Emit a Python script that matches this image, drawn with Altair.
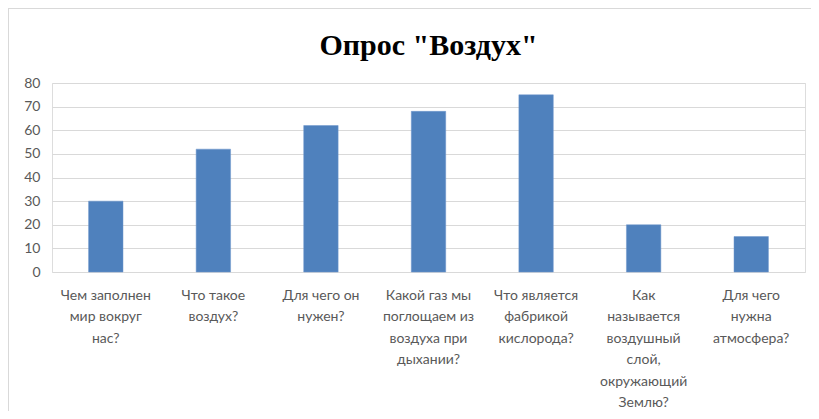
import altair as alt
import pandas as pd

categories = [
    "Чем заполнен|мир вокруг|нас?",
    "Что такое|воздух?",
    "Для чего он|нужен?",
    "Какой газ мы|поглощаем из|воздуха при|дыхании?",
    "Что является|фабрикой|кислорода?",
    "Как|называется|воздушный|слой,|окружающий|Землю?",
    "Для чего|нужна|атмосфера?",
]
values = [30, 52, 62, 68, 75, 20, 15]
y_ticks = [0, 10, 20, 30, 40, 50, 60, 70, 80]

df = pd.DataFrame({"q": categories, "v": values})

bars = alt.Chart(df).mark_bar(color="#4F81BD", stroke="#6F97CC", strokeWidth=0.5).encode(
    x=alt.X("q:N", sort=categories, title=None,
            scale=alt.Scale(paddingInner=0.68, paddingOuter=0.34),
            axis=alt.Axis(labelAngle=0, labelExpr="split(datum.label, '|')",
                          labelLimit=200, labelFont="Lato", labelFontSize=14,
                          labelColor="#595959", labelLineHeight=21.5,
                          labelBaseline="top", labelPadding=16,
                          ticks=False, domain=False, grid=False)),
    y=alt.Y("v:Q", title=None,
            scale=alt.Scale(domain=[0, 80], nice=False),
            axis=alt.Axis(values=y_ticks, labelFont="Lato", labelFontSize=14,
                          labelColor="#595959", ticks=False, domain=False,
                          labelPadding=12, gridColor="#D9D9D9", gridWidth=1)),
)

frame_data = alt.Data(values=[{}])
left_edge = alt.Chart(frame_data).mark_rule(color="#D9D9D9", strokeWidth=1).encode(
    x=alt.value(-43.5), y=alt.value(-75), y2=alt.value(336)
)
top_edge = alt.Chart(frame_data).mark_rule(color="#D9D9D9", strokeWidth=1).encode(
    x=alt.value(-44), x2=alt.value(760), y=alt.value(-74.5)
)

chart = alt.layer(left_edge, top_edge, bars).properties(
    width=753,
    height=189,
    title=alt.TitleParams("Опрос \"Воздух\"", font="Liberation Serif", fontSize=30,
                          fontWeight="bold", color="#000000", anchor="middle",
                          baseline="alphabetic", frame="group", offset=-77),
    autosize=alt.AutoSizeParams(type="none"),
    padding={"left": 44, "top": 75, "right": 6, "bottom": 139},
).configure_view(stroke=None).configure(background="white")

chart.save("out.html", embed_options={"renderer": "svg", "actions": False})
